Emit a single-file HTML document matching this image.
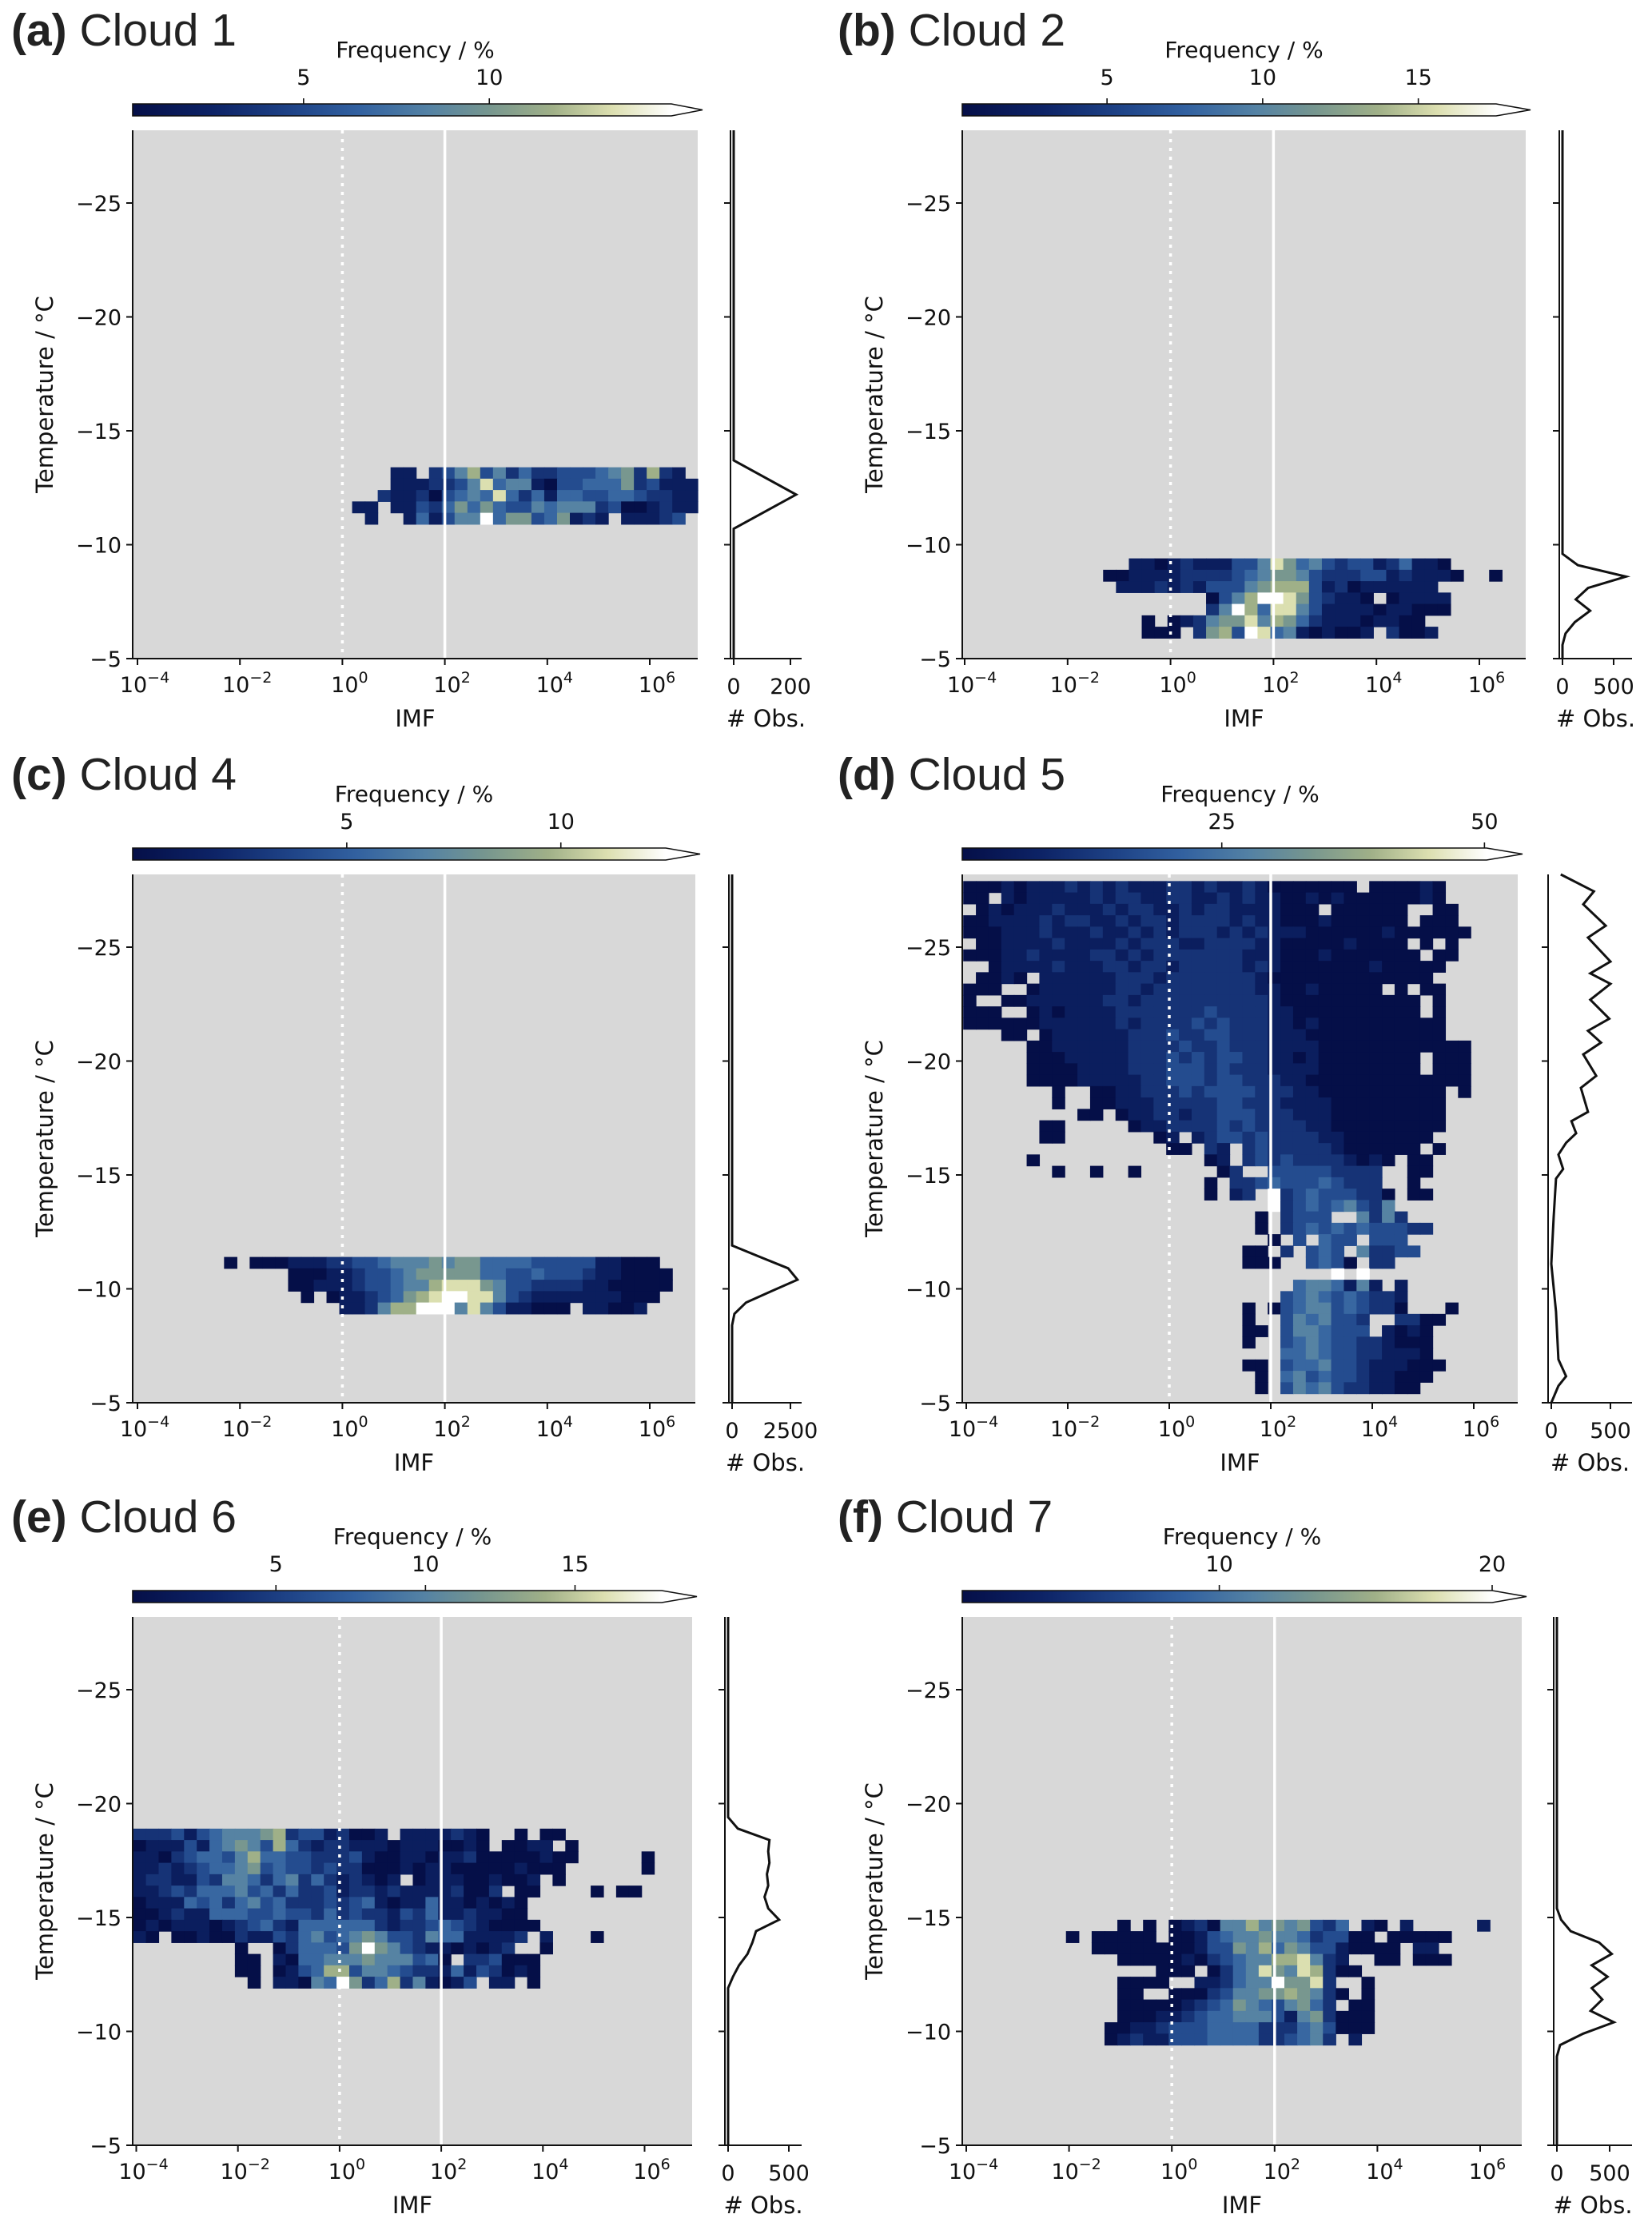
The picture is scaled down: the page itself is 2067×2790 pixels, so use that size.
<!DOCTYPE html>
<html><head><meta charset="utf-8"><style>
html,body{margin:0;padding:0;background:#fff;}
svg{display:block;font-family:"DejaVu Sans","Liberation Sans",sans-serif;}
</style></head><body>
<svg id="fig" width="2067" height="2790" viewBox="0 0 2067 2790" xmlns="http://www.w3.org/2000/svg"></svg>
<script>
// ---------- DATA ----------
// Heatmap rows (top row first). Digit = colour level 0..9 (frequency), '.' = no data.
const cloud1TopRow = 15;
const cloud1StartCol = 17;
const cloud1Rows = [
 "...11.23573524223334562721.",
 "...111223584551033444623111",
 "..2112034548424144334432211",
 "11.113246464335455523001211",
 ".1..1413559466346121.11123."
];
const cloud2TopRow = 7;
const cloud2StartCol = 11;
const cloud2Rows = [
 "..1101211133586453233124110",
 "0011112222"+"3456653222"+"33121110"+"..0",
 ".111212133"+"3567773120"+"111111",
 "........03"+"5799863211"+"0.01111",
 "........25"+"9748853111"+"1011000",
 "...0.01256"+"6857642111"+"01100",
 "...000.267"+"3984510100"+"1.2001"
];
const cloud4TopRow = 11;
const cloud4StartCol = 7;
const cloud4Rows = [
 "0.00011122"+"3345556566"+"4444333331"+"1000",
 ".....00011"+"2334566666"+"4433433321"+"10000",
 ".....00111"+"2334557888"+"6533222211"+"00000",
 "......0.01"+"1234678998"+"8532111111"+"1000",
 ".........1"+"1257799958"+"5311000.11"+"001"
];
const cloud5TopRow = 44;
const cloud5StartCol = 0;
const cloud5Rows = [
 "0001011121"+"2121112212"+"1121000000"+"0.000010",
 "00.1011111"+"2122112211"+"2121100101"+"00000010",
 ".010111211"+"1212211212"+"21111000.0"+"00000..00",
 "0011112122"+"1121221222"+"2121100010"+"00000.000",
 "0001112111"+"2112121222"+"1212111000"+"0001000000",
 ".001111211"+"1121222112"+"2221100000"+"10000.0.0",
 "0001121111"+"2212122222"+"2211100010"+"000000.00",
 "..01111211"+"1221221222"+"2212100000"+"00100000",
 ".0010.1111"+"1122212222"+"2221000000"+"0000000",
 "000..01111"+"1122122222"+"2221100100"+"000.0.00",
 "0..0011111"+"1221222222"+"2222100000"+"000000.0",
 "000..01011"+"1122222223"+"2222110000"+"000000.0",
 "0000001111"+"1121222232"+"3222110100"+"00000000",
 "...00.0111"+"1112223223"+"3222111000"+"00000000",
 ".....00111"+"1112222322"+"3222111100"+"0000000000",
 ".....00011"+"1112223232"+"3322110100"+"000000.000",
 ".....00001"+"1112223332"+"3222111100"+"000000.000",
 ".....00001"+"1111223332"+"3322211000"+"0000000000",
 ".......0.."+"0011222323"+"3332221100"+"00000000.0",
 ".......0.."+"0011122222"+"3322211110"+"00000000",
 ".........0"+"0.01122122"+"3332221110"+"00000000",
 "......00.."+"...0112222"+"3232222110"+"00000000",
 "......00.."+".....01.12"+"3323222211"+"0000000",
 ".........."+"......00.2"+"1.23222221"+"000000.0",
 ".....0...."+".........0"+"1.23232222"+"1010.00",
 ".......0.."+"0..0......"+"02..333332"+"222..00",
 ".........."+".........0"+".223433343"+"222..0",
 ".........."+".........0"+".12.923433"+"3220.00",
 ".........."+".........."+"....923434"+"5325",
 ".........."+".........."+"...0.2333."+".5252",
 ".........."+".........."+"...0.23434"+"3433322",
 ".........."+".........."+"....0.3.43"+"3.333",
 ".........."+".........."+"..00.2.343"+".52233",
 ".........."+".........."+"..000..343"+"0.22",
 ".........."+".........."+".........9"+".9",
 ".........."+".........."+"......4554"+"151.1",
 ".........."+".........."+".....34543"+"43221",
 ".........."+".........."+"..0.034553"+"43220...0",
 ".........."+".........."+"..0..35453"+"32..2200",
 ".........."+".........."+"..00.35543"+"33.1010",
 ".........."+".........."+"..0..34543"+"3221000",
 ".........."+".........."+".....44543"+"3221110",
 ".........."+".........."+"..00.34453"+"32111000",
 ".........."+".........."+"...0.45343"+"3211000",
 ".........."+".........."+"...0.35453"+"221100"
];
const cloud6TopRow = 26;
const cloud6StartCol = 0;
const cloud6Rows = [
 "2223134555"+"6723312001"+".1111210.."+"0.00",
 "0111314565"+"3742122111"+"01110010.0"+"011.0",
 "1102344357"+"4433222310"+"0110112000"+"00100....."+"0",
 "1121234456"+"3433232200"+"0101100000"+"1000......"+"0",
 "1221132554"+"2452421210"+"1.01110010"+"01.0",
 "1123244453"+"4242231221"+"211112002."+"00....0.00",
 "0111434245"+"3422232341"+"0114110101"+"0",
 "0012114443"+"3433242322"+"1324112110"+"0",
 "0101110123"+"4214444442"+"1223432100"+"00",
 "10.0010021"+"1324534565"+"3325441111"+"2.1...0",
 "........0."+".024443696"+"5321101012"+"..0",
 "........00"+".104455565"+"55340.2230"+"00",
 "........00"+".013477355"+"4322141320"+"10",
 ".........0"+".110549624"+"7251013.11"+".0"
];
const cloud7TopRow = 18;
const cloud7StartCol = 8;
const cloud7Rows = [
 "....0.0.01"+"2055756563"+"24.10.1..."+"..1",
 "0.00000.00"+"1345565542"+"3300.00000",
 "..00000000"+"1336574653"+"310000.11",
 "....000001"+"0234557785"+"21..00.000",
 ".......000"+".024586587"+"200",
 "....0000.."+"1124559668"+"2..0",
 "....00..00"+"0235566765"+"20.0",
 "....000001"+"2346543564"+"2.00",
 "....000112"+"3445553156"+"2000",
 "...0011233"+"3444422245"+"3000",
 "...0121133"+"3444422345"+"2.1"
];
// Marginal histograms (# Obs. vs temperature)
const cloud1ObsTemps = [-28.2,-13.7,-12.2,-10.7,-5];
const cloud1ObsCounts = [0,0,220,0,0];
const cloud2ObsTemps = [-28.2,-9.6,-9.1,-8.6,-8.1,-7.6,-7.1,-6.6,-6.1,-5.6,-5];
const cloud2ObsCounts = [0,0,150,620,250,130,270,120,30,0,0];
const cloud4ObsTemps = [-28.2,-11.9,-11.4,-10.9,-10.4,-9.9,-9.4,-8.9,-8.4,-5];
const cloud4ObsCounts = [0,0,1200,2400,2800,1700,600,100,0,0];
const cloud5ObsTemps = [-28.2,-27.45,-26.88,-25.94,-25.42,-24.37,-23.85,-23.39,-22.69,-21.86,-21.33,-20.81,-20.29,-19.35,-18.82,-17.77,-17.36,-16.83,-16.41,-15.89,-15.26,-14.84,-13.17,-11.1,-9.0,-6.9,-6.16,-5.74,-5.0];
const cloud5ObsCounts = [80,360,270,460,310,500,330,500,330,490,310,420,270,380,250,310,170,210,125,60,100,40,20,0,40,60,125,60,0];
const cloud6ObsTemps = [-28.2,-19.4,-18.9,-18.4,-17.9,-17.4,-16.9,-16.4,-15.9,-15.4,-14.9,-14.4,-13.9,-13.4,-12.9,-12.4,-11.9,-5];
const cloud6ObsCounts = [0,0,80,340,330,340,320,330,300,330,420,230,200,160,90,40,0,0];
const cloud7ObsTemps = [-28.2,-15.4,-14.9,-14.4,-13.9,-13.4,-12.9,-12.4,-11.9,-11.4,-10.9,-10.4,-9.9,-9.4,-8.9,-5];
const cloud7ObsCounts = [0,0,40,130,400,520,330,480,330,430,320,540,250,30,0,0];
// Colorbar ticks
const cloud1CbTicks = [5,10];
const cloud2CbTicks = [5,10,15];
const cloud4CbTicks = [5,10];
const cloud5CbTicks = [25,50];
const cloud6CbTicks = [5,10,15];
const cloud7CbTicks = [10,20];
const tempTicks = [-25,-20,-15,-10,-5];
const imfTickExps = [-4,-2,0,2,4,6];

// ---------- LAYOUT ----------
const NS = "http://www.w3.org/2000/svg";
const svg = document.getElementById("fig");
const cmapStops = [[0,"#050f48"],[0.15,"#0d2366"],[0.3,"#1f4488"],[0.42,"#3261a0"],[0.55,"#5482a4"],[0.66,"#76968f"],[0.78,"#a0b088"],[0.89,"#dcdfb0"],[1,"#ffffff"]];
function hex(c){return [parseInt(c.slice(1,3),16),parseInt(c.slice(3,5),16),parseInt(c.slice(5,7),16)];}
function cmap(t){
  t=Math.max(0,Math.min(1,t));
  for(let k=1;k<cmapStops.length;k++){
    if(t<=cmapStops[k][0]){
      const a=cmapStops[k-1],b=cmapStops[k];const f=(t-a[0])/(b[0]-a[0]);
      const A=hex(a[1]),B=hex(b[1]);
      return "rgb("+A.map((v,i)=>Math.round(v+(B[i]-v)*f)).join(",")+")";
    }
  }
  return "#fff";
}
function mk(tag,attrs,parent){const e=document.createElementNS(NS,tag);for(const k in attrs)e.setAttribute(k,attrs[k]);(parent||svg).appendChild(e);return e;}

const defs=mk("defs",{});
const grad=mk("linearGradient",{id:"cbgrad",x1:"0",x2:"1",y1:"0",y2:"0"},defs);
cmapStops.forEach(s=>mk("stop",{offset:s[0],"stop-color":s[1]},grad));

const panels=[
 {key:"a",name:"Cloud 1",rows:cloud1Rows,top:cloud1TopRow,start:cloud1StartCol,ot:cloud1ObsTemps,oc:cloud1ObsCounts,cbt:cloud1CbTicks,
  dx:0,dy:0,left:166,right:873,x4:172,ppd:64.1,cbEnd:840,vmin:0.4,vmax:14.9,mz:918,mppu:0.355,mEnd:1003,mMax:200,titleX:14},
 {key:"b",name:"Cloud 2",rows:cloud2Rows,top:cloud2TopRow,start:cloud2StartCol,ot:cloud2ObsTemps,oc:cloud2ObsCounts,cbt:cloud2CbTicks,
  dx:0,dy:0,left:1204,right:1909,x4:1207,ppd:64.4,cbEnd:1872,vmin:0.35,vmax:17.5,mz:1955,mppu:0.128,mEnd:2042,mMax:500,titleX:1048},
 {key:"c",name:"Cloud 4",rows:cloud4Rows,top:cloud4TopRow,start:cloud4StartCol,ot:cloud4ObsTemps,oc:cloud4ObsCounts,cbt:cloud4CbTicks,
  dx:0,dy:931,left:166,right:870,x4:172,ppd:64.1,cbEnd:833,vmin:0.0,vmax:12.45,mz:916,mppu:0.0292,mEnd:1003,mMax:2500,titleX:14},
 {key:"d",name:"Cloud 5",rows:cloud5Rows,top:cloud5TopRow,start:cloud5StartCol,ot:cloud5ObsTemps,oc:cloud5ObsCounts,cbt:cloud5CbTicks,
  dx:0,dy:931,left:1204,right:1899,x4:1209,ppd:63.5,cbEnd:1860,vmin:0.3,vmax:50.2,mz:1941,mppu:0.148,mEnd:2042,mMax:500,titleX:1048},
 {key:"e",name:"Cloud 6",rows:cloud6Rows,top:cloud6TopRow,start:cloud6StartCol,ot:cloud6ObsTemps,oc:cloud6ObsCounts,cbt:cloud6CbTicks,
  dx:0,dy:1860,left:166,right:866,x4:170.5,ppd:63.6,cbEnd:828,vmin:0.21,vmax:17.9,mz:911,mppu:0.152,mEnd:1003,mMax:500,titleX:14},
 {key:"f",name:"Cloud 7",rows:cloud7Rows,top:cloud7TopRow,start:cloud7StartCol,ot:cloud7ObsTemps,oc:cloud7ObsCounts,cbt:cloud7CbTicks,
  dx:0,dy:1860,left:1204,right:1904,x4:1209,ppd:64.3,cbEnd:1867,vmin:0.58,vmax:20.0,mz:1948,mppu:0.132,mEnd:2042,mMax:500,titleX:1048}
];

panels.forEach(P=>{
  const g=mk("g",{});
  
  
  const bottom=824+P.dy, topY=bottom-661, ppc=28.5;
  const yOf=T=>bottom-(-5-T)*ppc;
  const xOf=l=>P.x4+(l+4)*P.ppd;

  const tt=mk("text",{x:P.titleX,y:57+P.dy,"font-size":57,fill:"#222","font-family":"Liberation Sans, sans-serif"},g);
  
  
  const tb=mk("tspan",{"font-weight":"bold"},tt);tb.textContent="("+P.key+")";
  const tn=mk("tspan",{},tt);tn.textContent=" "+P.name;

  const cbY=130+P.dy, cbH=15;
  const cbG=mk("g",{},g);
  
  
  mk("rect",{x:P.left,y:cbY,width:P.cbEnd-P.left,height:cbH,fill:"url(#cbgrad)"},cbG);
  mk("polygon",{points:`${P.cbEnd},${cbY} ${P.right+6},${cbY+cbH/2} ${P.cbEnd},${cbY+cbH}`,fill:"#fff"},cbG);
  mk("polygon",{points:`${P.left},${cbY} ${P.cbEnd},${cbY} ${P.right+6},${cbY+cbH/2} ${P.cbEnd},${cbY+cbH} ${P.left},${cbY+cbH}`,fill:"none",stroke:"#111","stroke-width":1.6},cbG);
  P.cbt.forEach(v=>{
    const x=P.left+(v-P.vmin)/(P.vmax-P.vmin)*(P.cbEnd-P.left);
    mk("line",{x1:x,x2:x,y1:cbY,y2:cbY-7,stroke:"#111","stroke-width":1.6},cbG);
    const t=mk("text",{x:x,y:cbY-24,"font-size":27,"text-anchor":"middle",fill:"#111"},cbG);
    
    
    t.textContent=v;
  });
  const cl=mk("text",{x:(P.left+P.right)/2,y:72+P.dy,"font-size":28,"text-anchor":"middle",fill:"#111"},cbG);
  
  
  cl.textContent="Frequency / %";

  const bg=mk("rect",{x:P.left,y:topY,width:P.right-P.left,height:661,fill:"#d8d8d8"},g);
  
  

  const cells=mk("g",{},g);
  
  
  P.rows.forEach((row,r)=>{
    const i=P.top-r;
    const yT=Math.max(topY,yOf(-5.4-0.5*(i+1))), yB=Math.min(bottom,yOf(-5.4-0.5*i));
    for(let k=0;k<row.length;k++){
      const ch=row[k]; if(ch===".") continue;
      const j=P.start+k;
      let x0=xOf(-4.06+0.25*j), x1=xOf(-4.06+0.25*(j+1));
      x0=Math.max(x0,P.left); x1=Math.min(x1,P.right);
      if(x1<=x0) continue;
      const c=mk("rect",{x:x0,y:yT,width:x1-x0+0.6,height:yB-yT+0.6,fill:cmap(parseInt(ch)/9)},cells);
      
      
    }
  });

  const dl=mk("line",{x1:xOf(0),x2:xOf(0),y1:topY,y2:bottom,stroke:"#fff","stroke-width":3.5,"stroke-dasharray":"4 7"},g);
  
  
  const sl=mk("line",{x1:xOf(2),x2:xOf(2),y1:topY,y2:bottom,stroke:"#fff","stroke-width":3.5},g);
  
  

  mk("line",{x1:P.left,x2:P.left,y1:topY,y2:bottom+1,stroke:"#111","stroke-width":2},g);
  mk("line",{x1:P.left-1,x2:P.right,y1:bottom,y2:bottom,stroke:"#111","stroke-width":2},g);

  tempTicks.forEach(v=>{
    const y=yOf(v);
    mk("line",{x1:P.left-8,x2:P.left,y1:y,y2:y,stroke:"#111","stroke-width":2},g);
    const t=mk("text",{x:P.left-14,y:y+10,"font-size":27,"text-anchor":"end",fill:"#111"},g);
    
    
    t.textContent=(v<0?"\u2212":"")+Math.abs(v);
  });
  imfTickExps.forEach(e=>{
    const x=xOf(e);
    mk("line",{x1:x,x2:x,y1:bottom,y2:bottom+8,stroke:"#111","stroke-width":2},g);
    const t=mk("text",{x:x+9,y:bottom+42,"font-size":27,"text-anchor":"middle",fill:"#111"},g);
    
    
    const a=mk("tspan",{},t);a.textContent="10";
    const s=mk("tspan",{dy:-12,"font-size":19},t);s.textContent=(e<0?"\u2212":"")+Math.abs(e);
  });
  const xl=mk("text",{x:(P.left+P.right)/2,y:bottom+85,"font-size":29,"text-anchor":"middle",fill:"#111"},g);
  
  
  xl.textContent="IMF";
  const yc=(topY+bottom)/2, yx=P.left-100;
  const yl=mk("text",{x:yx,y:yc,"font-size":29,"text-anchor":"middle",fill:"#111",transform:`rotate(-90 ${yx} ${yc})`},g);
  
  
  yl.textContent="Temperature / \u00B0C";

  const mg=mk("g",{},g);
  
  
  const sx=P.mz-4;
  mk("line",{x1:sx,x2:sx,y1:topY,y2:bottom+1,stroke:"#111","stroke-width":2},mg);
  mk("line",{x1:sx-1,x2:P.mEnd,y1:bottom,y2:bottom,stroke:"#111","stroke-width":2},mg);
  tempTicks.forEach(v=>{const y=yOf(v);mk("line",{x1:sx-8,x2:sx,y1:y,y2:y,stroke:"#111","stroke-width":2},mg);});
  [0,P.mMax].forEach(v=>{
    const x=P.mz+v*P.mppu;
    mk("line",{x1:x,x2:x,y1:bottom,y2:bottom+8,stroke:"#111","stroke-width":2},mg);
    const t=mk("text",{x:x,y:bottom+44,"font-size":27,"text-anchor":"middle",fill:"#111"},mg);
    
    
    t.textContent=v;
  });
  const ol=mk("text",{x:(sx+P.mEnd)/2,y:bottom+85,"font-size":29,"text-anchor":"middle",fill:"#111"},mg);
  
  
  ol.textContent="# Obs.";
  const pts=P.ot.map((T,k)=>(P.mz+P.oc[k]*P.mppu).toFixed(1)+","+Math.max(topY,yOf(T)).toFixed(1)).join(" ");
  const pl=mk("polyline",{points:pts,fill:"none",stroke:"#111","stroke-width":3,"stroke-linejoin":"miter"},mg);
  
  
});
</script>
</body></html>
